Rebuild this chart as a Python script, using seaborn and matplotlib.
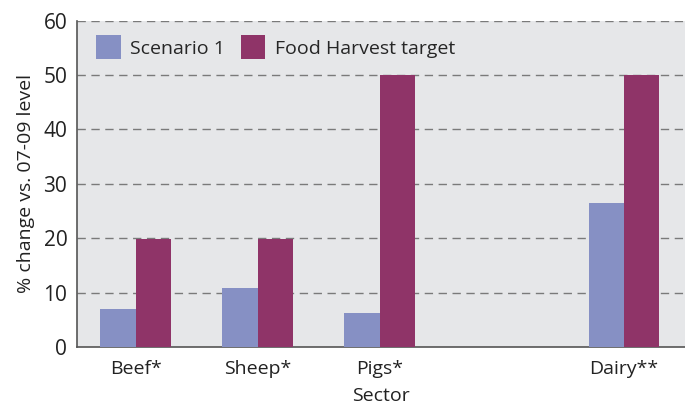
import matplotlib
matplotlib.use("Agg")
import matplotlib.pyplot as plt
from matplotlib.patches import Patch
import seaborn as sns
import pandas as pd
import numpy as np

sectors = ["Beef*", "Sheep*", "Pigs*", " ", "Dairy**"]
scenario1 = [7.0, 10.8, 6.2, np.nan, 26.5]
target = [19.8, 19.8, 50.0, np.nan, 50.0]
series = ["Scenario 1", "Food Harvest target"]
colors = ["#8690C4", "#8F3468"]
yticks = [0, 10, 20, 30, 40, 50, 60]

df = pd.DataFrame({
    "Sector": sectors * 2,
    "value": scenario1 + target,
    "series": [series[0]] * len(sectors) + [series[1]] * len(sectors),
})

sns.set_theme(style="white")
plt.rcParams["font.family"] = ["Open Sans", "DejaVu Sans"]

fig = plt.figure(figsize=(6.85, 4.07), dpi=100)
ax = fig.add_axes([77 / 685, 1 - 347 / 407, 1 - 77 / 685, (347 - 20.7) / 407])
ax.set_facecolor("#E6E7E9")

sns.barplot(data=df, x="Sector", y="value", hue="series", order=sectors,
            hue_order=series, palette=colors, width=0.58,
            saturation=1, gap=0, linewidth=0, ax=ax, zorder=3, legend=False)

ax.set_ylim(0, 60)
ax.set_xlim(-0.48, 4.5)
ax.set_yticks(yticks)
ax.set_yticklabels([str(v) for v in yticks], fontsize=15, color="#222222")
for y in yticks[1:]:
    ax.axhline(y, color="#7A7A7A", lw=1.0, ls=(0, (6, 4)), zorder=1)

ax.set_xticks(range(len(sectors)))
ax.set_xticklabels(sectors, fontsize=14, color="#222222")
ax.set_xticks([0.5, 1.5, 2.5, 3.5], minor=True)
ax.tick_params(axis="x", which="major", length=0, pad=9)
ax.tick_params(axis="x", which="minor", direction="in", length=6.5, width=1, color="#555555")
ax.tick_params(axis="y", length=0, pad=7)

for s in ["top", "right"]:
    ax.spines[s].set_visible(False)
for s in ["left", "bottom"]:
    ax.spines[s].set_color("#555555")
    ax.spines[s].set_linewidth(1.2)

ax.set_xlabel("Sector", fontsize=14, color="#222222", labelpad=7)
ax.set_ylabel("% change vs. 07-09 level", fontsize=14, color="#222222", labelpad=6)

handles = [Patch(facecolor=c, edgecolor="none", linewidth=0) for c in colors]
leg = ax.legend(handles, series, loc="upper left", bbox_to_anchor=(0.0, 1.015), ncol=2,
                frameon=False, fontsize=14, handlelength=1.24, handleheight=1.53,
                columnspacing=0.8, handletextpad=0.5, borderaxespad=0.6)

fig.savefig("out.png", dpi=100)
